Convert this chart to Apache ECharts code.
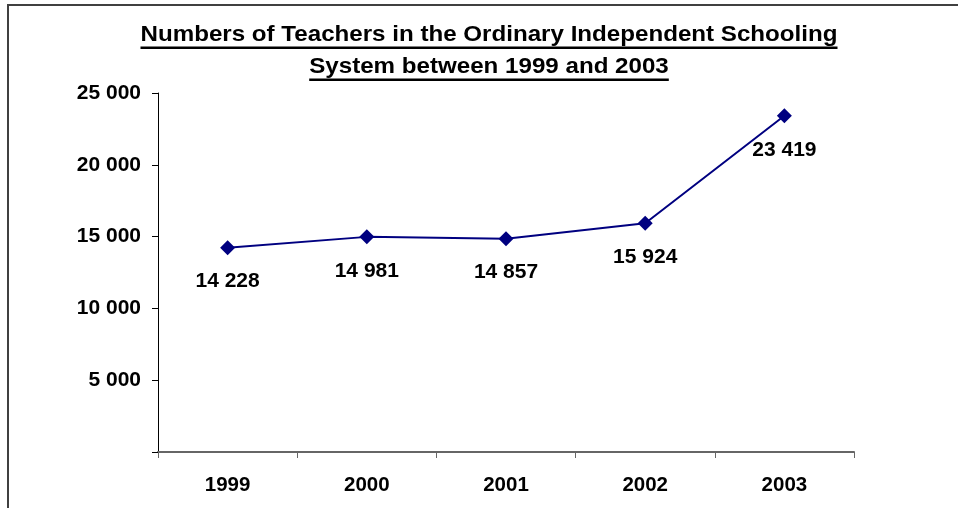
<!DOCTYPE html>
<html><head><meta charset="utf-8">
<script src="https://cdn.jsdelivr.net/npm/echarts@6/dist/echarts.min.js"></script>
<style>html,body{margin:0;padding:0;background:#fff}#c{width:958px;height:508px}</style>
</head><body><div id="c"></div>
<script>
const titleLines = ['Numbers of Teachers in the Ordinary Independent Schooling', 'System between 1999 and 2003'];
const years = ['1999', '2000', '2001', '2002', '2003'];
const teachers = [14228, 14981, 14857, 15924, 23419];
const yTicks = { min: 0, max: 25000, interval: 5000 };

const FONT = '"Liberation Sans", Arial, sans-serif';
const fmt = v => String(v).replace(/\B(?=(\d{3})+(?!\d))/g, ' ');

const TFONT = 'bold 22px ' + FONT;
const cvs = document.createElement('canvas').getContext('2d');
cvs.font = TFONT;
const titleX = 489;
const titleY = [35, 67];
const sx = 697 / cvs.measureText(titleLines[0]).width;
const graphics = [{
  type: 'rect', shape: { x: 8, y: 5, width: 1000, height: 600 },
  style: { fill: 'none', stroke: '#404040', lineWidth: 2 }, silent: true
}];
titleLines.forEach((t, i) => {
  const w = cvs.measureText(t).width * sx;
  graphics.push({ type: 'text', x: titleX, y: titleY[i], scaleX: sx,
    style: { text: t, font: TFONT, fill: '#000', align: 'center', verticalAlign: 'middle' } });
  graphics.push({ type: 'rect', shape: { x: titleX - w / 2, y: titleY[i] + 11.5, width: w, height: 2.5 },
    style: { fill: '#000' } });
});

const chart = echarts.init(document.getElementById('c'));
chart.setOption({
  animation: false,
  grid: { left: 158, right: 104, top: 93, bottom: 56 },
  graphic: graphics,
  xAxis: {
    type: 'category', data: years, boundaryGap: true,
    axisLine: { lineStyle: { color: '#666', width: 2 } },
    axisTick: { show: true, length: 6, lineStyle: { color: '#666' } },
    axisLabel: { color: '#000', fontWeight: 'bold', fontSize: 20.5, fontFamily: FONT, margin: 23 }
  },
  yAxis: {
    type: 'value', min: yTicks.min, max: yTicks.max, interval: yTicks.interval,
    splitLine: { show: false },
    axisLine: { show: true, lineStyle: { color: '#000', width: 1 } },
    axisTick: { show: true, length: 6, lineStyle: { color: '#000' } },
    axisLabel: { color: '#000', fontWeight: 'bold', fontSize: 21, fontFamily: FONT, margin: 17,
      formatter: v => v === 0 ? '' : fmt(v) }
  },
  series: [{
    type: 'line', data: teachers,
    symbol: 'diamond', symbolSize: 15,
    lineStyle: { color: '#000080', width: 2 },
    itemStyle: { color: '#000080' },
    label: { show: true, position: 'bottom', distance: 16, color: '#000', fontWeight: 'bold',
      fontSize: 21, fontFamily: FONT, formatter: p => fmt(p.value) }
  }]
});
</script></body></html>
